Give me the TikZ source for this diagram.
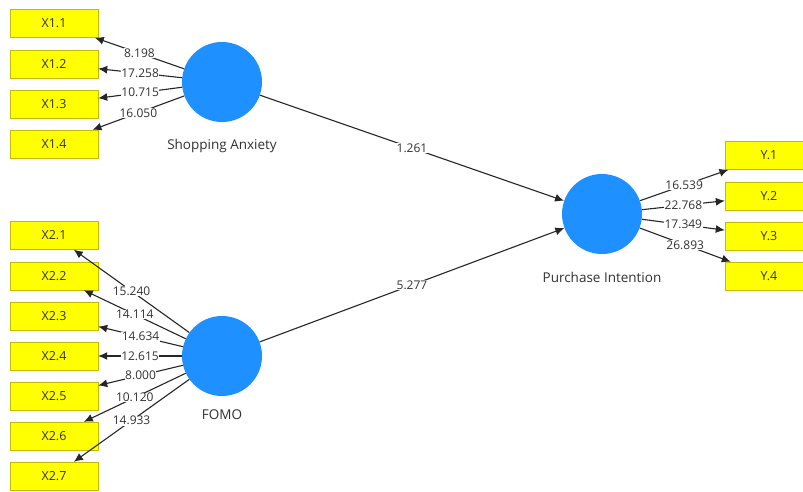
\documentclass[tikz,border=0pt]{standalone}
\usepackage{fontspec}
\setmainfont{Open Sans}
\usetikzlibrary{arrows.meta}
\definecolor{bluecol}{RGB}{30,144,255}
\definecolor{yellowcol}{RGB}{255,255,0}
\definecolor{bordercol}{RGB}{196,186,0}
\definecolor{textcol}{RGB}{50,50,50}
\tikzset{
  latent/.style={circle,fill=bluecol,minimum size=80pt,inner sep=0pt},
  indicator/.style={rectangle,fill=yellowcol,draw=bordercol,
    minimum width=88pt,minimum height=28pt,inner sep=0pt,
    font=\fontsize{12.5}{14}\selectfont,text=textcol},
  caption/.style={font=\fontsize{13.5}{15}\selectfont,text=textcol},
  link/.style={-{Latex[length=9pt,width=8pt]},line width=1.1pt,black!85},
  weight/.style={fill=white,inner sep=0.5pt,
    font=\fontsize{12}{14}\selectfont,text=textcol},
}

\begin{document}
\begin{tikzpicture}[x=1pt,y=-1pt]
  \clip (0,0) rectangle (803,492);
  \fill[white] (0,0) rectangle (803,492);

  % latent variables
  \node[latent] (sa) at (222,82) {};
  \node[latent] (fomo) at (222,356) {};
  \node[latent] (pi) at (602,214) {};
  \node[caption] (sa-label) at (222,146) {Shopping Anxiety};
  \node[caption] (fomo-label) at (222,415) {FOMO};
  \node[caption] (pi-label) at (602,277) {Purchase Intention};

  % indicators
  \foreach \i/\y in {1/23.5,2/64,3/104,4/144}
    \node[indicator] (x1\i) at (54,\y) {X1.\i};
  \foreach \i/\y in {1/235.5,2/276,3/316,4/356,5/396,6/436,7/476}
    \node[indicator] (x2\i) at (54,\y) {X2.\i};
  \foreach \i/\y in {1/155.5,2/196,3/236,4/276}
    \node[indicator] (y\i) at (769,\y) {Y.\i};

  % outer loadings
  \foreach \i/\t in {1/8.198,2/17.258,3/10.715,4/16.050}
    \draw[link] (sa) -- node[weight] {\t} (x1\i);
  \foreach \i/\t in {1/15.240,2/14.114,3/14.634,4/12.615,5/8.000,6/10.120,7/14.933}
    \draw[link] (fomo) -- node[weight] {\t} (x2\i);
  \foreach \i/\t in {1/16.539,2/22.768,3/17.349,4/26.893}
    \draw[link] (pi) -- node[weight] {\t} (y\i);

  % path coefficients
  \draw[link] (sa) -- node[weight] {1.261} (pi);
  \draw[link] (fomo) -- node[weight] {5.277} (pi);
\end{tikzpicture}
\end{document}
